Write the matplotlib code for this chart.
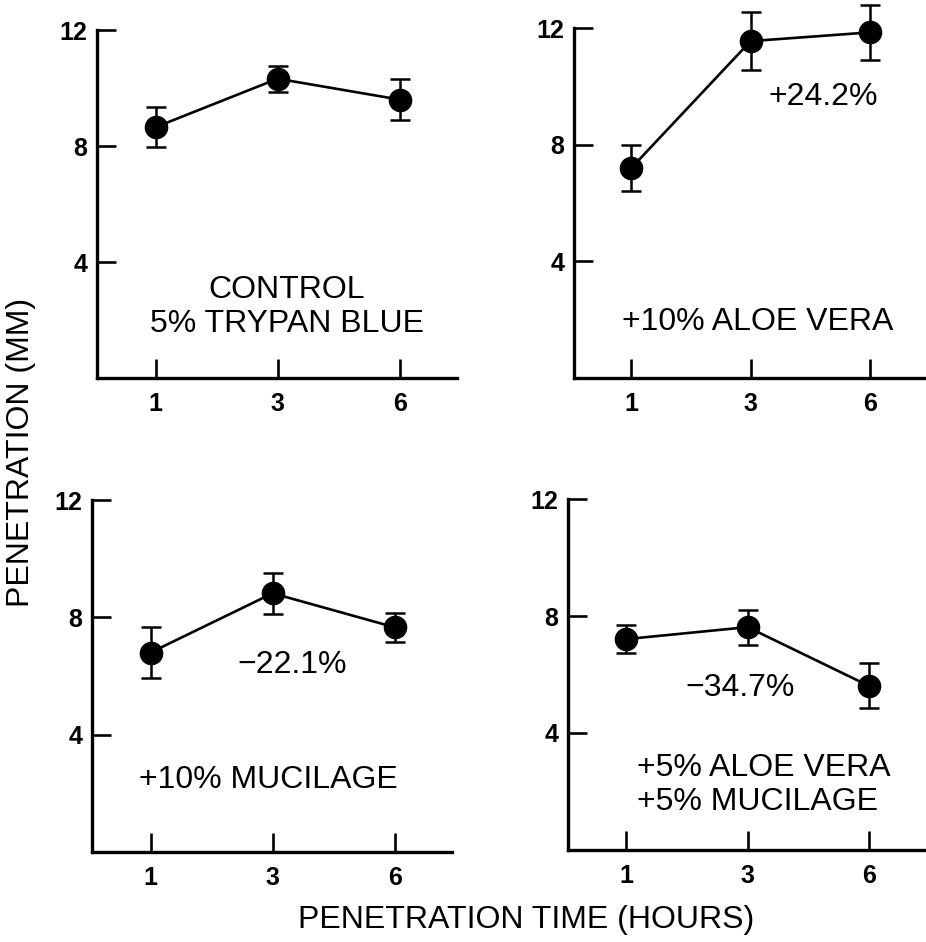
import matplotlib
matplotlib.use("Agg")
import matplotlib.pyplot as plt

plt.rcParams['font.family'] = ['Liberation Sans', 'DejaVu Sans']

# penetration time (hours) and depth (mm) for each formulation
hours = ['1', '3', '6']
control = [8.65, 10.32, 9.6]
control_err = [0.7, 0.45, 0.7]
aloe10 = [7.2, 11.55, 11.85]
aloe10_err = [0.78, 1.0, 0.95]
mucilage10 = [6.8, 8.82, 7.66]
mucilage10_err = [0.88, 0.7, 0.5]
mix = [7.21, 7.62, 5.61]
mix_err = [0.48, 0.6, 0.77]

yticks = [4, 8, 12]

W, H = 926, 942
fig = plt.figure(figsize=(W / 100, H / 100), dpi=100)


def px_axes(left, top, right, bottom):
    return fig.add_axes([left / W, 1 - bottom / H, (right - left) / W, (bottom - top) / H])


def draw_panel(ax, means, errs):
    x = list(range(len(hours)))
    ax.errorbar(x, means, yerr=errs, fmt='-o', color='black', lw=1.9,
                ms=16, elinewidth=1.8, capsize=7, capthick=1.8, clip_on=False)
    ax.set_ylim(0, 12)
    ax.set_xlim(-0.48, 2.47)
    ax.set_xticks(x)
    ax.set_xticklabels(hours)
    ax.set_yticks(yticks)
    for s in ['top', 'right']:
        ax.spines[s].set_visible(False)
    for s in ['left', 'bottom']:
        ax.spines[s].set_linewidth(2.4)
    ax.tick_params(axis='both', direction='in', length=14, width=1.9,
                   labelsize=18)
    ax.tick_params(axis='x', pad=10)
    ax.tick_params(axis='y', pad=7)
    for lab in ax.get_xticklabels() + ax.get_yticklabels():
        lab.set_fontweight('bold')
    ax.set_facecolor('none')


ax1 = px_axes(97, 30, 457, 378)
draw_panel(ax1, control, control_err)
ax2 = px_axes(574, 28, 926, 378)
draw_panel(ax2, aloe10, aloe10_err)
ax3 = px_axes(92, 500, 452, 852)
draw_panel(ax3, mucilage10, mucilage10_err)
ax4 = px_axes(568, 499, 926, 850)
draw_panel(ax4, mix, mix_err)


def ftext(x, y, s, **kw):
    kw.setdefault('ha', 'center')
    fig.text(x / W, 1 - y / H, s, va='center', fontsize=23, **kw)


ftext(287, 307, 'CONTROL\n5% TRYPAN BLUE', multialignment='center', linespacing=1.15)
ftext(823, 97, '+24.2%')
ftext(758, 322, '+10% ALOE VERA')
ftext(292, 665, '\u221222.1%')
ftext(268, 780, '+10% MUCILAGE')
ftext(740, 688, '\u221234.7%')
ftext(637, 785, '+5% ALOE VERA\n+5% MUCILAGE', ha='left', multialignment='left',
      linespacing=1.15)

fig.text(526 / W, 1 - 920 / H, 'PENETRATION TIME (HOURS)', ha='center', va='center', fontsize=23)
fig.text(21 / W, 1 - 452 / H, 'PENETRATION (MM)', ha='center', va='center',
         rotation=90, fontsize=23)

fig.savefig('out.png', dpi=100, facecolor='white')
